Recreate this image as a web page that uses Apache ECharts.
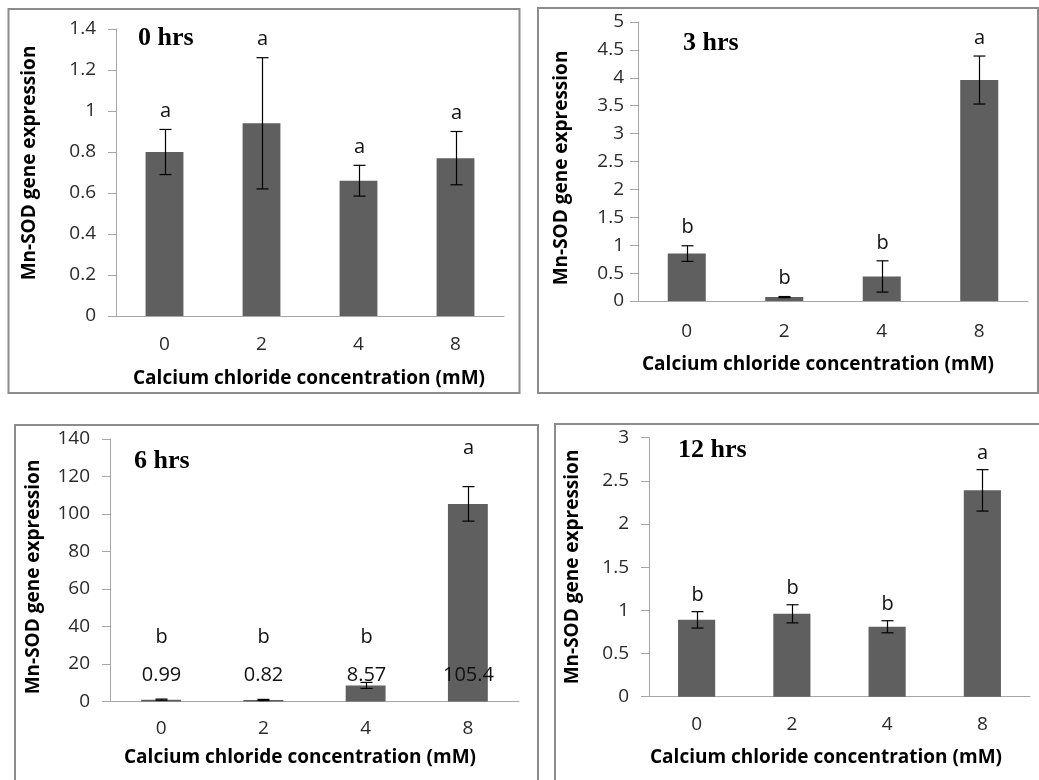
<!DOCTYPE html>
<html>
<head>
<meta charset="utf-8">
<script src="https://cdn.jsdelivr.net/npm/echarts@6/dist/echarts.min.js"></script>
<style>
html,body{margin:0;padding:0;background:#fff;}
#chart{width:1039px;height:780px;}
</style>
</head>
<body>
<div id="chart"></div>
<script>
// ---------- data ----------
const categories = ['0', '2', '4', '8'];
const panelTitles = ['0 hrs', '3 hrs', '6 hrs', '12 hrs'];
const xAxisTitle = 'Calcium chloride concentration (mM)';
const yAxisTitle = 'Mn-SOD gene expression';

const mean0h = [0.80, 0.94, 0.66, 0.77];
const err0h = [0.11, 0.32, 0.075, 0.13];
const letters0h = ['a', 'a', 'a', 'a'];

const mean3h = [0.85, 0.07, 0.44, 3.96];
const err3h = [0.14, 0.01, 0.28, 0.43];
const letters3h = ['b', 'b', 'b', 'a'];

const mean6h = [0.99, 0.82, 8.57, 105.4];
const err6h = [0.3, 0.3, 1.6, 9.2];
const letters6h = ['b', 'b', 'b', 'a'];
const valueLabels6h = ['0.99', '0.82', '8.57', '105.4'];

const mean12h = [0.89, 0.96, 0.81, 2.39];
const err12h = [0.095, 0.105, 0.07, 0.24];
const letters12h = ['b', 'b', 'b', 'a'];

const yMax = [1.4, 5, 140, 3];
const yStep = [0.2, 0.5, 20, 0.5];

// ---------- layout / style ----------
const FONT = "'Open Sans', 'Noto Sans', sans-serif";
const BAR = '#5f5f5f';
const AXIS = '#a6a6a6';
const BORDER = '#8c8c8c';

const panels = [
  { means: mean0h, errs: err0h, letters: letters0h, values: null,
    grid: { left: 116, top: 29, width: 388, height: 287 }, ylMargin: 20, xlMargin: 19, gap: 18,
    border: [8.5, 9, 511, 384], title: [138, 38], xTitle: [309, 379], yTitle: [30, 163] },
  { means: mean3h, errs: err3h, letters: letters3h, values: null,
    grid: { left: 638, top: 22, width: 390, height: 279 }, ylMargin: 14, xlMargin: 21, gap: 18,
    border: [538, 8, 500, 385], title: [683, 43], xTitle: [818, 365], yTitle: [562, 168] },
  { means: mean6h, errs: err6h, letters: letters6h, values: valueLabels6h,
    grid: { left: 110, top: 439, width: 409, height: 262.5 }, ylMargin: 20, xlMargin: 18, gap: 38,
    border: [15, 425, 523, 420], title: [134, 461], xTitle: [300, 758], yTitle: [34, 577] },
  { means: mean12h, errs: err12h, letters: letters12h, values: null,
    grid: { left: 649, top: 437.7, width: 381, height: 259 }, ylMargin: 20, xlMargin: 18, gap: 16,
    border: [555, 424, 520, 420], title: [678, 450], xTitle: [826, 758], yTitle: [573, 567] }
];

const grids = [], xAxes = [], yAxes = [], series = [], graphics = [];

panels.forEach((p, i) => {
  grids.push(Object.assign({ containLabel: false }, p.grid));
  xAxes.push({
    type: 'category', gridIndex: i, data: categories,
    axisLine: { lineStyle: { color: AXIS, width: 1 } },
    axisTick: { show: false },
    axisLabel: { color: '#2a2a2a', fontFamily: FONT, fontSize: 19, margin: p.xlMargin }
  });
  yAxes.push({
    type: 'value', gridIndex: i, min: 0, max: yMax[i], interval: yStep[i],
    axisLine: { show: true, lineStyle: { color: AXIS, width: 1 } },
    axisTick: { show: true, length: 8, lineStyle: { color: AXIS } },
    splitLine: { show: false },
    axisLabel: { color: '#2a2a2a', fontFamily: FONT, fontSize: 19, margin: p.ylMargin }
  });
  series.push({
    type: 'bar', xAxisIndex: i, yAxisIndex: i, data: p.means,
    barWidth: '39%', itemStyle: { color: BAR }, silent: true
  });
  series.push({
    type: 'custom', xAxisIndex: i, yAxisIndex: i, z: 10, silent: true,
    data: p.means.map((m, k) => [k, m, p.errs[k]]),
    renderItem: (params, api) => {
      const k = params.dataIndex;
      const m = api.value(1), e = api.value(2);
      const top = api.coord([k, m + e]);
      const bot = api.coord([k, m - e]);
      const zero = api.coord([k, 0]);
      const x = Math.round(top[0]) + 0.5;
      const cap = 6;
      const ls = { stroke: '#000', lineWidth: 1.2 };
      const children = [
        { type: 'line', shape: { x1: x, y1: top[1], x2: x, y2: bot[1] }, style: ls },
        { type: 'line', shape: { x1: x - cap, y1: top[1], x2: x + cap, y2: top[1] }, style: ls },
        { type: 'line', shape: { x1: x - cap, y1: bot[1], x2: x + cap, y2: bot[1] }, style: ls }
      ];
      let anchor = top[1];
      if (p.values) {
        const ly = zero[1] - 26;
        children.push({ type: 'text', style: { text: p.values[k], x: x, y: ly, align: 'center', verticalAlign: 'middle',
          font: '20px ' + FONT, fill: '#111' } });
        anchor = Math.min(anchor, ly);
      }
      children.push({ type: 'text', style: { text: p.letters[k], x: x, y: anchor - p.gap, align: 'center', verticalAlign: 'middle',
        font: '20px ' + FONT, fill: '#111' } });
      return { type: 'group', children: children };
    }
  });
  graphics.push({ type: 'rect', silent: true, z: 0,
    shape: { x: p.border[0], y: p.border[1], width: p.border[2], height: p.border[3] },
    style: { fill: 'none', stroke: BORDER, lineWidth: 2 } });
  graphics.push({ type: 'text', silent: true, x: p.title[0], y: p.title[1],
    style: { text: panelTitles[i], font: "bold 26px 'Liberation Serif', 'DejaVu Serif', serif", fill: '#000',
      align: 'left', verticalAlign: 'middle' } });
  graphics.push({ type: 'text', silent: true, x: p.xTitle[0], y: p.xTitle[1],
    style: { text: xAxisTitle, font: 'bold 19px ' + FONT, fill: '#000', align: 'center', verticalAlign: 'middle' } });
  graphics.push({ type: 'text', silent: true, x: p.yTitle[0], y: p.yTitle[1], rotation: Math.PI / 2,
    style: { text: yAxisTitle, font: 'bold 19px ' + FONT, fill: '#000', align: 'center', verticalAlign: 'middle' } });
});

const chart = echarts.init(document.getElementById('chart'), null, { renderer: 'canvas' });
chart.setOption({
  backgroundColor: '#fff',
  animation: false,
  grid: grids, xAxis: xAxes, yAxis: yAxes, series: series,
  graphic: { elements: graphics }
});
</script>
</body>
</html>
